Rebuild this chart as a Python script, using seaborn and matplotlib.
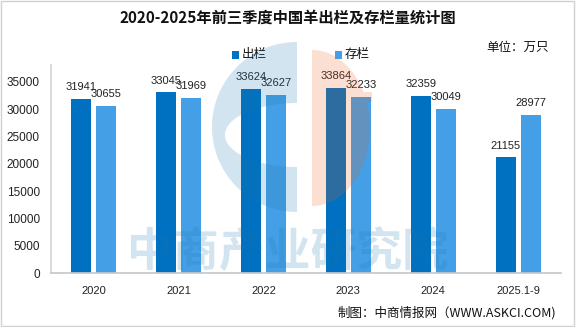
import matplotlib
matplotlib.use("Agg")
import matplotlib.pyplot as plt
import seaborn as sns
import pandas as pd
import numpy as np
from matplotlib.patches import Rectangle, PathPatch
from matplotlib.path import Path

categories = ["2020", "2021", "2022", "2023", "2024", "2025.1-9"]
out_vals = [31941, 33045, 33624, 33864, 32359, 21155]
stock_vals = [30655, 31969, 32627, 32233, 30049, 28977]
series = ["出栏", "存栏"]
colors = ["#0070C0", "#449FE6"]

df = pd.DataFrame({
    "year": categories * 2,
    "value": out_vals + stock_vals,
    "type": [series[0]] * len(categories) + [series[1]] * len(categories),
})

sns.set_theme(style="white")
plt.rcParams["font.family"] = ["Noto Sans CJK SC", "DejaVu Sans"]
NUMFONT = ["Liberation Sans", "DejaVu Sans"]

fig = plt.figure(figsize=(5.76, 3.27), dpi=100)
fig.patch.set_facecolor("white")
fig.add_artist(Rectangle((0.002, 0.003), 0.995, 0.994, transform=fig.transFigure,
                         fill=False, edgecolor="#D0D0D0", linewidth=1.0))

ax = fig.add_axes([0.0885, 0.165, 0.885, 0.635])
ax.patch.set_alpha(0)
sns.barplot(data=df, x="year", y="value", hue="type", palette=colors,
            width=0.59, gap=0.2, saturation=1, linewidth=0, ax=ax,
            legend=False, zorder=2)

for cont in ax.containers:
    ax.bar_label(cont, fmt="%d", padding=5, fontsize=8, color="#222222",
                 family=NUMFONT)

ax.set_ylim(0, 38000)
ax.set_yticks(range(0, 35001, 5000))
ax.set_xlim(-0.5, len(categories) - 0.5)
ax.set_xlabel("")
ax.set_ylabel("")
ax.tick_params(axis="y", labelsize=8.5, colors="#222222", length=0, pad=8)
ax.tick_params(axis="x", labelsize=8, colors="#222222", length=0, pad=9)
for lab in ax.get_yticklabels() + ax.get_xticklabels():
    lab.set_family(NUMFONT)
ax.set_xticks([i - 0.5 for i in range(len(categories) + 1)], minor=True)
ax.tick_params(axis="x", which="minor", length=4, color="#C8C8C8", direction="out")
for s in ["top", "right"]:
    ax.spines[s].set_visible(False)
ax.spines["left"].set_color("#D4D4D4")
ax.spines["bottom"].set_color("#C8C8C8")

# watermark overlay (logo) in pixel coordinates
wm = fig.add_axes([0, 0, 1, 1], zorder=5)
wm.set_xlim(0, 576)
wm.set_ylim(327, 0)
wm.axis("off")
wm.patch.set_alpha(0)
blue_wm = (30 / 255, 120 / 255, 175 / 255)
peach_wm = (230 / 255, 95 / 255, 30 / 255)


def half_ellipse(cx, cy, a, b, t0, t1, n=60, reverse=False):
    t = np.linspace(np.radians(t0), np.radians(t1), n)
    pts = np.column_stack([cx + a * np.cos(t), cy - b * np.sin(t)])
    pts = np.vstack([pts, pts[:1]])
    if reverse:
        pts = pts[::-1]
    codes = [Path.MOVETO] + [Path.LINETO] * (len(pts) - 2) + [Path.CLOSEPOLY]
    return pts, codes


o_pts, o_codes = half_ellipse(297, 127, 85, 85, 90, 270)
i_pts, i_codes = half_ellipse(297, 135, 72, 32, 90, 270, reverse=True)
blue_path = Path(np.vstack([o_pts, i_pts]), o_codes + i_codes)
wm.add_patch(PathPatch(blue_path, facecolor=blue_wm, alpha=0.2, edgecolor="none"))

p_pts, p_codes = half_ellipse(312, 128, 58, 78, -90, 90)
r_pts = np.array([[312, 92], [312, 102], [372, 102], [372, 92], [312, 92]])
r_codes = [Path.MOVETO, Path.LINETO, Path.LINETO, Path.LINETO, Path.CLOSEPOLY]
peach_path = Path(np.vstack([p_pts, r_pts]), p_codes + r_codes)
wm.add_patch(PathPatch(peach_path, facecolor=peach_wm, alpha=0.2, edgecolor="none"))

wm.text(288, 253, "中商产业研究院", fontsize=33, color=blue_wm, alpha=0.2,
        ha="center", va="center", fontweight="bold")

fig.text(0.5, 0.945, "2020-2025年前三季度中国羊出栏及存栏量统计图", ha="center", va="center",
         fontsize=11, fontweight="bold", color="#111111")
fig.add_artist(Rectangle((0.402, 0.82), 0.013, 0.025, transform=fig.transFigure,
                         facecolor=colors[0], edgecolor="none"))
fig.text(0.42, 0.833, series[0], fontsize=9, va="center", color="#111111")
fig.add_artist(Rectangle((0.581, 0.82), 0.013, 0.025, transform=fig.transFigure,
                         facecolor=colors[1], edgecolor="none"))
fig.text(0.599, 0.833, series[1], fontsize=9, va="center", color="#111111")
fig.text(0.952, 0.855, "单位：万只", ha="right", va="center", fontsize=9, color="#111111")
fig.text(0.965, 0.045, "制图：中商情报网（WWW.ASKCI.COM)", ha="right", va="center",
         fontsize=9, color="#111111")

fig.savefig("out.png", dpi=100)
